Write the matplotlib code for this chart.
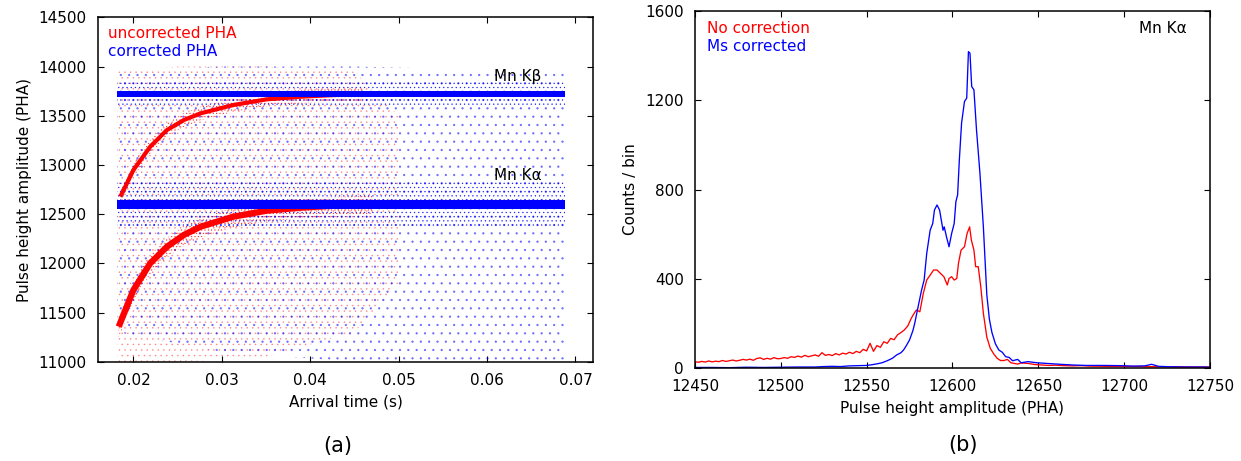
import numpy as np
import matplotlib
matplotlib.use("Agg")
import matplotlib.pyplot as plt

plt.rcParams['font.family'] = ['DejaVu Sans']
plt.rcParams['hatch.linewidth'] = 0.4

RED = '#ff0000'
BLUE = '#0000ff'
FS = 11

# ---- panel (a): arrival time vs pulse height ----
# uncorrected (red) band centres
t_kb_red = [0.01853, 0.0200, 0.0219, 0.0238, 0.0257, 0.0276, 0.0313, 0.0351, 0.0389, 0.0426, 0.0460]
pha_kb_red = [12677, 12948, 13185, 13355, 13456, 13524, 13609, 13667, 13693, 13710, 13718]
t_ka_red = [0.01834, 0.0200, 0.0219, 0.0238, 0.0257, 0.0276, 0.0313, 0.0351, 0.0389, 0.0426, 0.0470]
pha_ka_red = [11356, 11729, 12000, 12169, 12288, 12372, 12474, 12535, 12565, 12585, 12596]

# corrected (blue) bands
t_blue = [0.0182, 0.0688]
pha_kb_blue = [13720, 13720]
pha_ka_blue = [12600, 12600]

# extent of the diffuse scatter clouds
t_cloud_blue = [0.0182, 0.030, 0.045, 0.0688]
lo_cloud_blue = [11300, 11100, 11000, 11000]
hi_cloud_blue = [13950, 14000, 14000, 13950]
t_cloud_red = [0.0182, 0.025, 0.035, 0.045, 0.050]
lo_cloud_red = [11000, 11000, 11050, 11300, 11800]
hi_cloud_red = [13950, 14000, 14000, 13950, 13500]
halo_ka_blue = [12380, 12850]
halo_kb_blue = [13600, 13850]

# ---- panel (b): Mn K-alpha spectra ----
pha_red = [12450, 12452, 12454, 12456, 12458, 12460, 12462, 12464, 12466, 12468,
           12470, 12472, 12474, 12476, 12478, 12480, 12482, 12484, 12486, 12488,
           12490, 12492, 12494, 12496, 12498, 12500, 12502, 12504, 12506, 12508,
           12510, 12512, 12514, 12516, 12518, 12520, 12522, 12524, 12526, 12528,
           12530, 12532, 12534, 12536, 12538, 12540, 12542, 12544, 12546, 12548,
           12550, 12552, 12554, 12556, 12558, 12560, 12562, 12564, 12566, 12568,
           12570, 12572, 12574, 12576, 12578, 12579, 12581, 12583, 12585, 12587,
           12589, 12591, 12593, 12595, 12597, 12598, 12599.5, 12601, 12602.5, 12603.5,
           12605, 12607, 12608.5, 12610, 12611, 12612.5, 12613.5, 12615, 12616.5, 12618,
           12620, 12622, 12624, 12626, 12628, 12630, 12632, 12634, 12636, 12638,
           12640, 12644, 12648, 12652, 12656, 12660, 12665, 12670, 12675, 12680,
           12690, 12700, 12710, 12720, 12730, 12740, 12750]
cnt_red = [30, 27, 31, 28, 33, 29, 32, 30, 35, 31,
           34, 37, 33, 36, 40, 37, 41, 36, 44, 47,
           40, 45, 41, 48, 43, 44, 48, 45, 52, 49,
           55, 50, 58, 52, 56, 60, 54, 70, 58, 62,
           57, 66, 60, 68, 64, 72, 66, 76, 70, 85,
           78, 112, 76, 102, 94, 119, 112, 134, 128, 150,
           160, 172, 190, 224, 250, 261, 253, 335, 395, 417,
           440, 440, 425, 410, 373, 402, 410, 395, 402, 470,
           529, 544, 603, 633, 574, 529, 455, 455, 365, 246,
           140, 90, 65, 45, 35, 35, 40, 25, 22, 19,
           24, 22, 17, 15, 13, 14, 12, 11, 12, 10,
           9, 9, 8, 7, 7, 6, 6]

pha_blue = [12450, 12460, 12470, 12480, 12490, 12500, 12510, 12520, 12525, 12530,
            12535, 12540, 12545, 12550, 12553, 12556, 12559, 12562, 12565, 12567.5,
            12570, 12571.5, 12573, 12575, 12577, 12578, 12580, 12582, 12583.5, 12585,
            12587, 12588.5, 12589.5, 12591, 12592.5, 12593.5, 12594.5, 12595.2, 12596.5, 12598,
            12599.5, 12601, 12602, 12603, 12604, 12605.3, 12607, 12608.3, 12609.3, 12610.2,
            12611.2, 12612.5, 12614, 12616, 12618, 12620, 12621.5, 12623, 12625, 12627,
            12629, 12631, 12633, 12635, 12638, 12640, 12644, 12649, 12655, 12663,
            12670, 12678, 12688, 12698, 12705, 12712, 12716, 12720, 12727, 12735,
            12746, 12750]
cnt_blue = [4, 4, 3, 5, 4, 5, 6, 6, 8, 9,
            8, 11, 12, 13, 16, 20, 25, 34, 45, 60,
            70, 82, 100, 127, 170, 201, 276, 350, 395, 514,
            618, 648, 708, 731, 708, 663, 618, 633, 589, 544,
            603, 648, 746, 776, 932, 1097, 1194, 1209, 1417, 1410,
            1261, 1246, 1067, 873, 633, 330, 220, 160, 110, 82,
            72, 52, 49, 34, 40, 25, 30, 25, 22, 18,
            15, 13, 13, 12, 10, 11, 18, 9, 7, 6,
            6, 5]

fig = plt.figure(figsize=(12.41, 4.61), dpi=100)
ax1 = fig.add_axes([0.079, 0.2154, 0.3989, 0.747])
ax2 = fig.add_axes([0.560, 0.201, 0.415, 0.7757])

# diffuse clouds (dot hatching stands in for the scattered events)
ax1.fill_between(t_cloud_red, lo_cloud_red, hi_cloud_red, facecolor='none',
                 edgecolor=RED, hatch='...', linewidth=0, alpha=0.35, zorder=1)
ax1.fill_between(t_cloud_blue, lo_cloud_blue, hi_cloud_blue, facecolor='none',
                 edgecolor=BLUE, hatch='..', linewidth=0, alpha=0.5, zorder=2)

# red halos around the uncorrected curves
ka_r = np.array(pha_ka_red)
kb_r = np.array(pha_kb_red)
ax1.fill_between(t_ka_red, ka_r - 110, ka_r + 90, facecolor='none', edgecolor=RED,
                 hatch='.....', linewidth=0, alpha=0.8, zorder=3)
ax1.fill_between(t_kb_red, kb_r - 70, kb_r + 70, facecolor='none', edgecolor=RED,
                 hatch='.....', linewidth=0, alpha=0.8, zorder=3)

# blue halos
ax1.fill_between(t_blue, [halo_ka_blue[0]] * 2, [halo_ka_blue[1]] * 2, facecolor='none',
                 edgecolor=BLUE, hatch='....', linewidth=0, alpha=0.8, zorder=4)
ax1.fill_between(t_blue, [halo_kb_blue[0]] * 2, [halo_kb_blue[1]] * 2, facecolor='none',
                 edgecolor=BLUE, hatch='....', linewidth=0, alpha=0.8, zorder=4)

# dense cores
ax1.plot(t_ka_red, pha_ka_red, color=RED, lw=4.5, solid_capstyle='butt', zorder=5)
ax1.plot(t_kb_red, pha_kb_red, color=RED, lw=3, solid_capstyle='butt', zorder=5)
kb_b = np.array(pha_kb_blue)
ka_b = np.array(pha_ka_blue)
ax1.fill_between(t_blue, kb_b - 28, kb_b + 28, color=BLUE, linewidth=0, zorder=6)
ax1.fill_between(t_blue, ka_b - 45, ka_b + 45, color=BLUE, linewidth=0, zorder=6)

ax1.set_xlim(0.016, 0.072)
ax1.set_ylim(11000, 14500)
ax1.set_xticks([0.02, 0.03, 0.04, 0.05, 0.06, 0.07])
ax1.set_xticklabels(['0.02', '0.03', '0.04', '0.05', '0.06', '0.07'])
ax1.set_yticks(np.arange(11000, 14501, 500))
ax1.set_xlabel('Arrival time (s)', fontsize=FS, labelpad=5)
ax1.set_ylabel('Pulse height amplitude (PHA)', fontsize=FS, labelpad=5)
ax1.text(0.020, 0.952, 'uncorrected PHA', color=RED, fontsize=FS,
         transform=ax1.transAxes, va='center', ha='left')
ax1.text(0.020, 0.900, 'corrected PHA', color=BLUE, fontsize=FS,
         transform=ax1.transAxes, va='center', ha='left')
ax1.text(0.800, 0.827, 'Mn K\u03b2', fontsize=FS, transform=ax1.transAxes,
         va='center', ha='left', zorder=10)
ax1.text(0.800, 0.542, 'Mn K\u03b1', fontsize=FS, transform=ax1.transAxes,
         va='center', ha='left', zorder=10)

# ---- panel (b) ----
ax2.plot(pha_red, cnt_red, color=RED, lw=0.95)
ax2.plot(pha_blue, cnt_blue, color=BLUE, lw=0.95)
ax2.set_xlim(12450, 12750)
ax2.set_ylim(0, 1600)
ax2.set_xticks(np.arange(12450, 12751, 50))
ax2.set_yticks(np.arange(0, 1601, 400))
ax2.set_xlabel('Pulse height amplitude (PHA)', fontsize=FS, labelpad=5)
ax2.set_ylabel('Counts / bin', fontsize=FS, labelpad=5)
ax2.text(0.023, 0.949, 'No correction', color=RED, fontsize=FS,
         transform=ax2.transAxes, va='center', ha='left')
ax2.text(0.023, 0.899, 'Ms corrected', color=BLUE, fontsize=FS,
         transform=ax2.transAxes, va='center', ha='left')
ax2.text(0.955, 0.949, 'Mn K\u03b1', fontsize=FS, transform=ax2.transAxes,
         va='center', ha='right')

for ax in (ax1, ax2):
    ax.tick_params(direction='in', top=True, right=True, length=4.5, width=0.8,
                   labelsize=FS, pad=8)
    for s in ax.spines.values():
        s.set_linewidth(1.1)

fig.text(338 / 1241, 1 - 446 / 461, '(a)', fontsize=15, ha='center', va='center')
fig.text(963 / 1241, 1 - 445 / 461, '(b)', fontsize=15, ha='center', va='center')

fig.savefig('out.png', dpi=100)
